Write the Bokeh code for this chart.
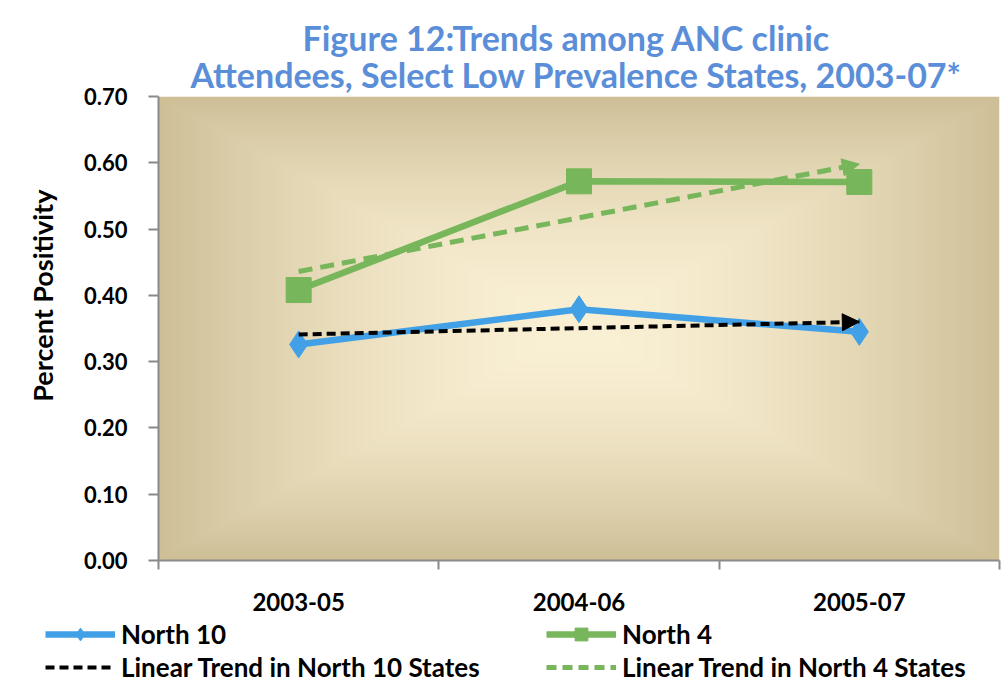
import numpy as np
from bokeh.plotting import figure
from bokeh.models import Range1d, FixedTicker, Legend, LegendItem, Title, Arrow, NormalHead, PrintfTickFormatter
from bokeh.embed import file_html
from bokeh.resources import INLINE

# ---------------- data ----------------
categories = ["2003-05", "2004-06", "2005-07"]
north10 = [0.326, 0.379, 0.345]
north4 = [0.408, 0.572, 0.571]
trend_north10 = [0.341, 0.360]   # linear trend, first and last period
trend_north4 = [0.436, 0.598]
y_ticks = [0.0, 0.1, 0.2, 0.3, 0.4, 0.5, 0.6, 0.7]
series_labels = ["North 10", "North 4",
                 "Linear Trend in North 10 States", "Linear Trend in North 4 States"]

title_line1 = "Figure 12:Trends among ANC clinic"
title_line2 = "Attendees, Select Low Prevalence States, 2003-07*"
y_title = "Percent Positivity"

# ---------------- style ----------------
FONT = "Lato"
BLUE = "#41A0E6"
GREEN = "#77B65A"
TITLE_BLUE = "#5B8ED8"
AXIS_GRAY = "#8a8a8a"

n = len(categories)
x_pos = [i + 0.5 for i in range(n)]
trend_x = [x_pos[0], x_pos[-1]]
y_max = y_ticks[-1]

p = figure(width=1005, height=618,
           x_range=Range1d(0, n), y_range=Range1d(0, y_max),
           output_backend="svg", toolbar_location=None,
           min_border_left=158, min_border_right=6,
           min_border_top=96, min_border_bottom=58)
p.outline_line_color = None
p.xgrid.visible = False
p.ygrid.visible = False
p.background_fill_color = "white"
p.border_fill_color = "white"

# background gradient of plot area (style only)
ny, nx = 240, 420
U, V = np.meshgrid(np.linspace(-1, 1, nx), np.linspace(-1, 1, ny))
t = np.maximum(np.abs(U), np.abs(V)) ** 1.7
center = np.array([250, 240, 212], dtype=float)
edge = np.array([206, 191, 151], dtype=float)
rgb = center[None, None, :] + (edge - center)[None, None, :] * t[:, :, None]
img = np.empty((ny, nx), dtype=np.uint32)
view = img.view(dtype=np.uint8).reshape((ny, nx, 4))
view[:, :, 0] = rgb[:, :, 0].astype(np.uint8)
view[:, :, 1] = rgb[:, :, 1].astype(np.uint8)
view[:, :, 2] = rgb[:, :, 2].astype(np.uint8)
view[:, :, 3] = 255
p.image_rgba(image=[img], x=0, y=0, dw=n, dh=y_max)

# series
p.line(x_pos, north10, line_color=BLUE, line_width=6.5)
p.scatter(x_pos, north10, marker="diamond", size=27, fill_color=BLUE, line_color=BLUE)
p.line(x_pos, north4, line_color=GREEN, line_width=6.5)
p.scatter(x_pos, north4, marker="square", size=25, fill_color=GREEN, line_color=GREEN)

p.line(trend_x, trend_north10, line_color="black", line_width=4, line_dash="9 5")
p.line(trend_x, trend_north4, line_color=GREEN, line_width=5, line_dash="14 8")

p.add_layout(Arrow(end=NormalHead(size=17, fill_color="black", line_color="black"),
                   x_start=trend_x[0], y_start=trend_north10[0],
                   x_end=trend_x[-1], y_end=trend_north10[-1], line_alpha=0))
p.add_layout(Arrow(end=NormalHead(size=17, fill_color=GREEN, line_color=GREEN),
                   x_start=trend_x[0], y_start=trend_north4[0],
                   x_end=trend_x[-1], y_end=trend_north4[-1], line_alpha=0))

# axes
xa = p.xaxis[0]
xa.ticker = FixedTicker(ticks=x_pos, minor_ticks=list(range(n + 1)))
xa.major_label_overrides = {x: c for x, c in zip(x_pos, categories)}
xa.major_tick_line_color = None
xa.major_tick_out = 0
xa.major_tick_in = 0
xa.minor_tick_out = 9
xa.minor_tick_in = 0
xa.minor_tick_line_color = AXIS_GRAY
xa.minor_tick_line_width = 2
xa.axis_line_color = AXIS_GRAY
xa.axis_line_width = 2
xa.major_label_standoff = 23
xa.major_label_text_font = FONT
xa.major_label_text_font_style = "bold"
xa.major_label_text_font_size = "24px"
xa.major_label_text_color = "black"

ya = p.yaxis[0]
ya.ticker = FixedTicker(ticks=y_ticks, minor_ticks=[])
ya.formatter = PrintfTickFormatter(format="%.2f")
ya.major_tick_out = 10
ya.major_tick_in = 0
ya.major_tick_line_color = AXIS_GRAY
ya.major_tick_line_width = 2
ya.axis_line_color = AXIS_GRAY
ya.axis_line_width = 2
ya.major_label_standoff = 21
ya.major_label_text_font = FONT
ya.major_label_text_font_style = "bold"
ya.major_label_text_font_size = "22px"
ya.major_label_text_color = "black"
ya.axis_label = "\u00a0" * 10 + y_title
ya.axis_label_text_font = FONT
ya.axis_label_text_font_style = "bold"
ya.axis_label_text_font_size = "27px"
ya.axis_label_text_color = "black"
ya.axis_label_standoff = 22

# titles (first added = closest to the plot)
p.add_layout(Title(text=title_line2, align="left", offset=32, text_font=FONT,
                   text_font_style="bold", text_font_size="34px", text_color=TITLE_BLUE,
                   standoff=3), "above")
p.add_layout(Title(text=title_line1, align="left", offset=144, text_font=FONT,
                   text_font_style="bold", text_font_size="34px", text_color=TITLE_BLUE,
                   standoff=-15), "above")

# ---------------- legend strip ----------------
lg = figure(width=1005, height=80, x_range=Range1d(-2, -1), y_range=Range1d(-2, -1),
            output_backend="svg", toolbar_location=None,
            x_axis_type=None, y_axis_type=None, min_border=0)
lg.outline_line_color = None
lg.xgrid.visible = False
lg.ygrid.visible = False
lg.background_fill_color = "white"

k10_l = lg.line(x_pos, north10, line_color=BLUE, line_width=6.5)
k10_m = lg.scatter(x_pos, north10, marker="diamond", size=20, fill_color=BLUE, line_color=BLUE)
k4_l = lg.line(x_pos, north4, line_color=GREEN, line_width=6.5)
k4_m = lg.scatter(x_pos, north4, marker="square", size=20, fill_color=GREEN, line_color=GREEN)
kt10_l = lg.line(trend_x, trend_north10, line_color="black", line_width=4, line_dash="9 5")
kt4_l = lg.line(trend_x, trend_north4, line_color=GREEN, line_width=5, line_dash="10 6")

legend = Legend(items=[
    LegendItem(label=series_labels[0], renderers=[k10_l, k10_m], index=0),
    LegendItem(label=series_labels[1], renderers=[k4_l, k4_m], index=0),
    LegendItem(label=series_labels[2], renderers=[kt10_l], index=0),
    LegendItem(label=series_labels[3], renderers=[kt4_l], index=0),
], orientation="horizontal", ncols=2, location=(45, 15),
    glyph_width=70, glyph_height=32, label_height=32, label_width=424,
    label_standoff=6, spacing=1, padding=0, margin=0,
    border_line_alpha=0, background_fill_alpha=0, inactive_fill_alpha=0,
    label_text_font=FONT, label_text_font_style="bold", label_text_font_size="26px",
    label_text_color="black")
lg.add_layout(legend)

open("out.html", "w").write(file_html([p, lg], INLINE))
